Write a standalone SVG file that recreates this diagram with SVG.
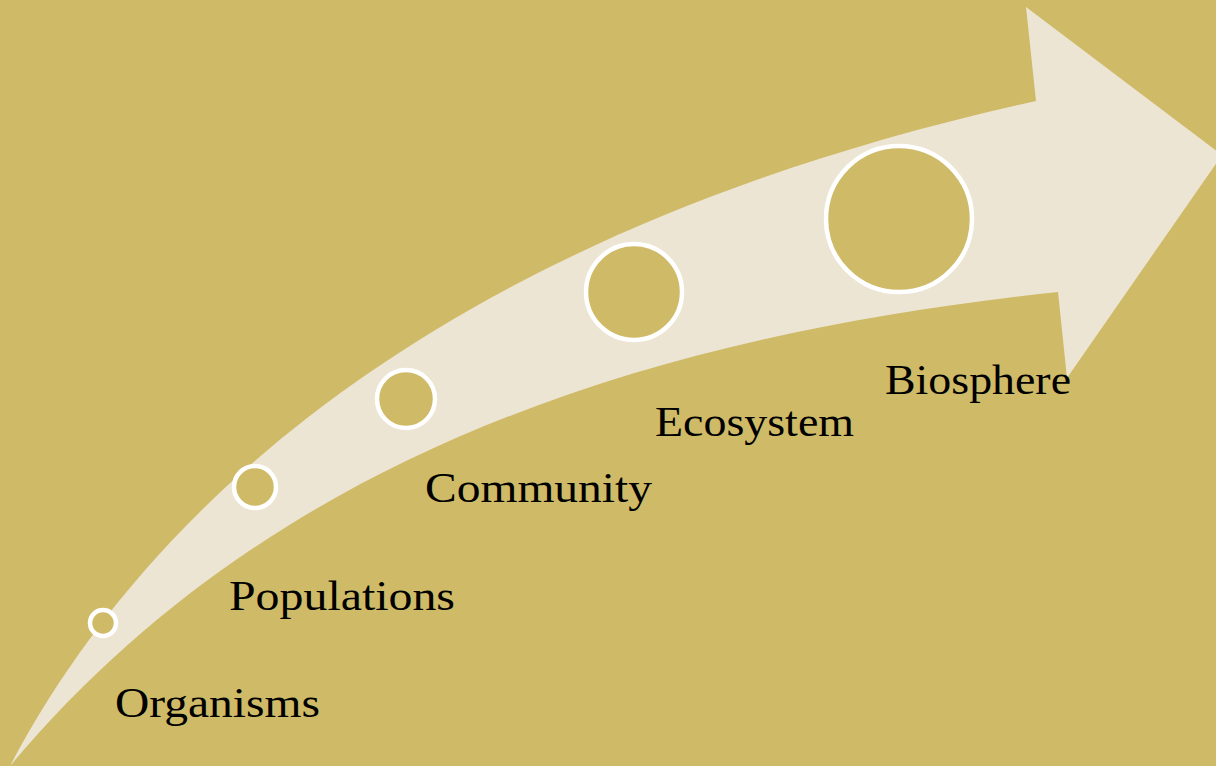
<svg xmlns="http://www.w3.org/2000/svg" width="1216" height="766" viewBox="0 0 1216 766">
<style>
.lbl{font-family:"Liberation Serif","DejaVu Serif",serif;font-size:42px;fill:#000}
.dot{fill:#CFBA67;stroke:#FFFFFF;stroke-width:4.5}
</style>
<rect width="1216" height="766" fill="#CFBA67"/>
<g id="arrow">
<path d="M10,766 C150,500 450,230 1036,101 L1026,7 L1222,155 L1067,378 L1058,292 C600,340 250,480 10,766 Z" fill="#EDE5D3"/>
</g>
<g id="connectors"></g>
<g id="organisms"><circle class="dot" cx="103" cy="623" r="13"/><text class="lbl" x="115" y="717" textLength="205" lengthAdjust="spacingAndGlyphs">Organisms</text></g>
<g id="populations"><circle class="dot" cx="255" cy="487" r="21"/><text class="lbl" x="229" y="610" textLength="226" lengthAdjust="spacingAndGlyphs">Populations</text></g>
<g id="community"><circle class="dot" cx="406" cy="399" r="29"/><text class="lbl" x="425" y="502" textLength="227" lengthAdjust="spacingAndGlyphs">Community</text></g>
<g id="ecosystem"><circle class="dot" cx="634" cy="292" r="48"/><text class="lbl" x="655" y="436" textLength="199" lengthAdjust="spacingAndGlyphs">Ecosystem</text></g>
<g id="biosphere"><circle class="dot" cx="899" cy="219" r="73"/><text class="lbl" x="885" y="394" textLength="186" lengthAdjust="spacingAndGlyphs">Biosphere</text></g>
</svg>
